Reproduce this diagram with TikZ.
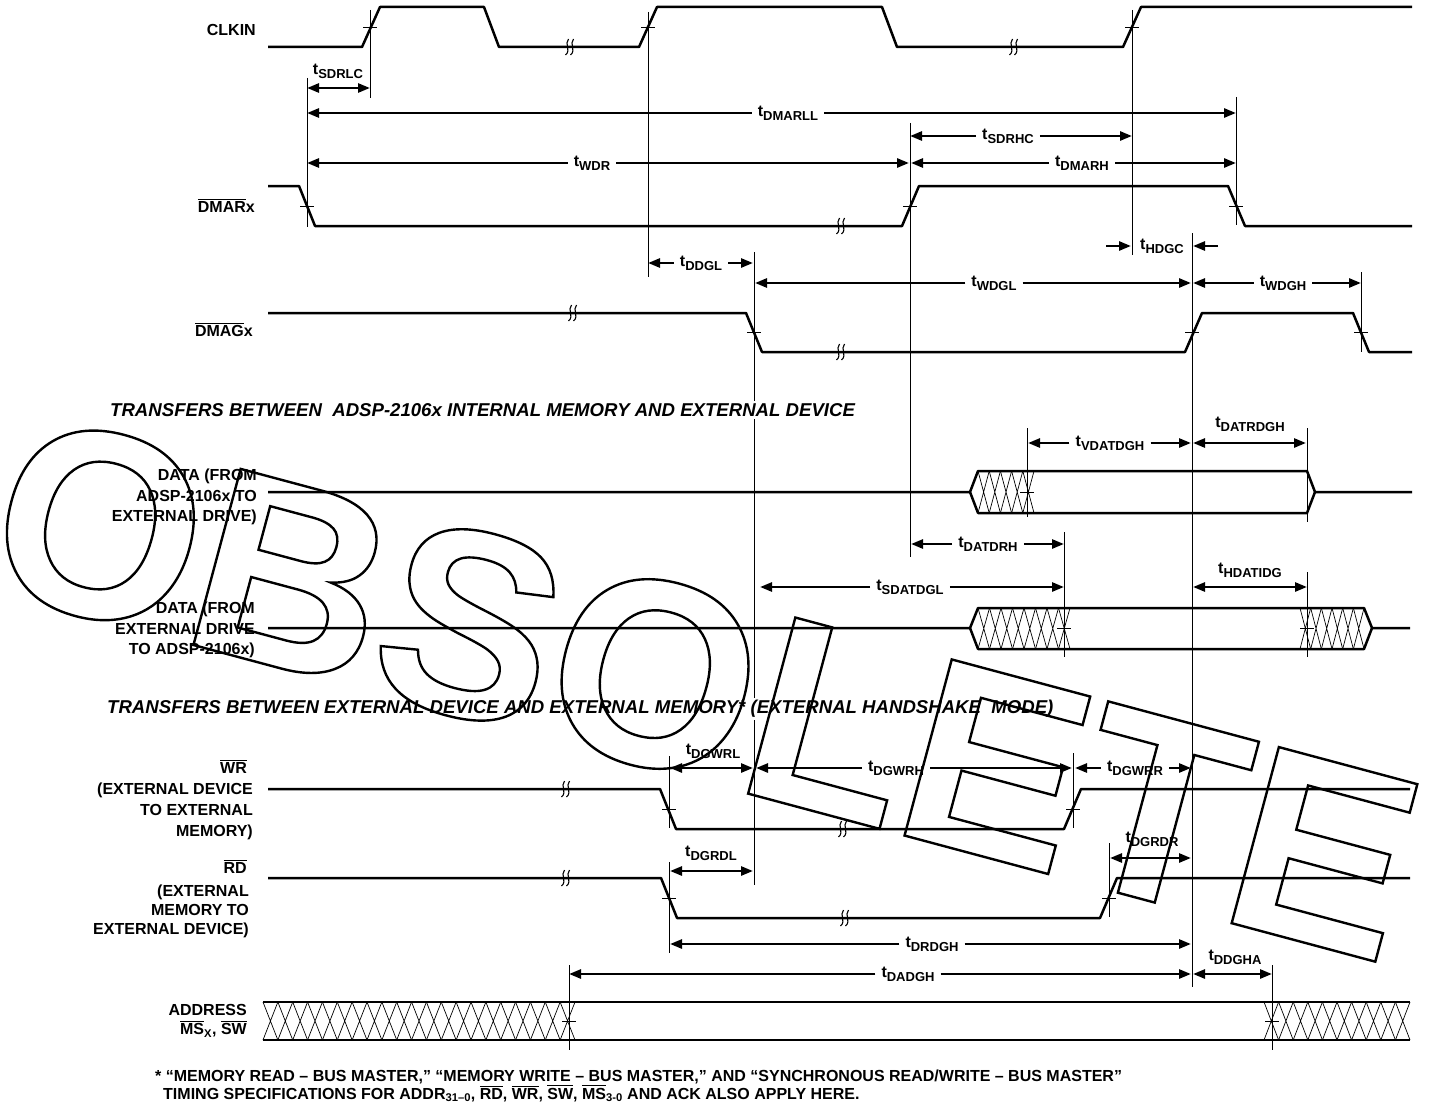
\documentclass[tikz,border=0pt]{standalone}
\usepackage{fontspec}
\setmainfont{Liberation Sans}
\usetikzlibrary{arrows.meta}

% timing parameter: t with a lowered subscript
\newcommand{\tlab}[1]{t\raisebox{-4pt}{\fontsize{13}{13}\selectfont #1}}
% active-low bar over a signal name
\newcommand{\ovl}[1]{\leavevmode\vbox{\hrule height 1.1pt\kern 1.4pt\hbox{#1}}}

\begin{document}
\begin{tikzpicture}[
    x=1pt, y=-1pt,
    sig/.style={line width=2.5pt, line join=round},
    ref/.style={line width=0.9pt},
    hatch/.style={line width=0.7pt},
    dim/.style={line width=2.6pt, >={Triangle[length=12pt,width=9pt]}},
    tl/.style={font=\fontsize{16}{16}\selectfont\bfseries, inner xsep=6pt, inner ysep=0pt},
    lbl/.style={font=\fontsize{16}{20.5}\selectfont\bfseries, align=right, anchor=east, inner sep=0pt},
    head/.style={font=\fontsize{18.6}{20}\selectfont\bfseries\itshape, anchor=west, fill=white, inner sep=2pt},
    brk/.pic={\draw[line width=1.1pt] (1.5,-8) .. controls (-3,-3) and (4.5,3) .. (-1.5,8)
                                      (6.5,-8) .. controls (2,-3) and (9.5,3) .. (3.5,8);},
    tick/.pic={\draw[ref] (-7,0) -- (7,0);},
]
\useasboundingbox (0,0) rectangle (1440,1105);

% Reference lines
\draw[ref] (307,78) -- (307,227);
\draw[ref] (370,10) -- (370,98);
\draw[ref] (648,12) -- (648,277);
\draw[ref] (910,123) -- (910,557);
\draw[ref] (1132,10) -- (1132,255);
\draw[ref] (1236,97) -- (1236,225);
\draw[ref] (754,252) -- (754,885);
\draw[ref] (1192,233) -- (1192,987);
\draw[ref] (1361,272) -- (1361,352);
\draw[ref] (1027,428) -- (1027,517);
\draw[ref] (1307,428) -- (1307,522);
\draw[ref] (1064,532) -- (1064,657);
\draw[ref] (1307,572) -- (1307,657);
\draw[ref] (669,756) -- (669,828);
\draw[ref] (669,862) -- (669,953);
\draw[ref] (1073,753) -- (1073,828);
\draw[ref] (1109,843) -- (1109,917);
\draw[ref] (569,965) -- (569,1050);
\draw[ref] (1272,965) -- (1272,1050);

% Section headings
\node[head] (sec1) at (108,410) {TRANSFERS BETWEEN\ \ ADSP-2106x INTERNAL MEMORY AND EXTERNAL DEVICE};
\node[head] (sec2) at (105,709) {TRANSFERS BETWEEN EXTERNAL DEVICE AND EXTERNAL MEMORY* (EXTERNAL HANDSHAKE\ \ MODE)};

% CLKIN
\node[lbl] (clkin) at (256,30) {CLKIN};
\draw[sig] (268,47) -- (362,47) -- (380,7) -- (484,7) -- (499,47) -- (639,47) -- (657,7)
    -- (882,7) -- (897,47) -- (1123,47) -- (1141,7) -- (1412,7);
\pic at (567,47) {brk};
\pic at (1011,47) {brk};
\pic at (370,27) {tick};
\pic at (648,27) {tick};
\pic at (1132,27) {tick};

% DMARx
\node[lbl] (dmar) at (255,206) {\ovl{DMAR}x};
\draw[sig] (268,186) -- (299,186) -- (315,226) -- (902,226) -- (919,186) -- (1228,186)
    -- (1245,226) -- (1412,226);
\pic at (838,226) {brk};
\pic at (307,206) {tick};
\pic at (910,206) {tick};
\pic at (1236,206) {tick};

% DMAGx
\node[lbl] (dmag) at (253,330) {\ovl{DMAG}x};
\draw[sig] (268,313) -- (746,313) -- (762,352) -- (1185,352) -- (1202,313) -- (1353,313)
    -- (1369,352) -- (1412,352);
\pic at (570,313) {brk};
\pic at (838,352) {brk};
\pic at (754,332) {tick};
\pic at (1192,332) {tick};
\pic at (1361,332) {tick};

% DATA, ADSP-2106x to external drive
\node[lbl] (data1) at (257,497) {DATA (FROM\\ADSP-2106x TO\\EXTERNAL DRIVE)};
\draw[sig] (268,492) -- (970,492) -- (978,471) -- (1307,471) -- (1315,492) -- (1412,492);
\draw[sig] (970,492) -- (978,513) -- (1307,513) -- (1315,492);
\foreach \i in {0,...,4}
    \draw[hatch] ({978+11.2*\i},471) -- ({978+11.2*(\i+1)},513)
                 ({978+11.2*\i},513) -- ({978+11.2*(\i+1)},471);
\pic at (1027,492) {tick};

% DATA, external drive to ADSP-2106x
\node[lbl] (data2) at (255,630) {DATA (FROM\\EXTERNAL DRIVE\\TO ADSP-2106x)};
\draw[sig] (268,628) -- (970,628) -- (978,608) -- (1364,608) -- (1372,628) -- (1410,628);
\draw[sig] (970,628) -- (978,649) -- (1364,649) -- (1372,628);
\foreach \i in {0,...,7}
    \draw[hatch] ({978+11.5*\i},608) -- ({978+11.5*(\i+1)},649)
                 ({978+11.5*\i},649) -- ({978+11.5*(\i+1)},608);
\foreach \i in {0,...,5}
    \draw[hatch] ({1300+10.67*\i},608) -- ({1300+10.67*(\i+1)},649)
                 ({1300+10.67*\i},649) -- ({1300+10.67*(\i+1)},608);
\pic at (1064,628) {tick};
\pic at (1307,628) {tick};

% WR
\node[lbl] (wr) at (247,767) {\ovl{WR}};
\node[lbl, font=\fontsize{16}{21}\selectfont\bfseries] (wrnote) at (253,811) {(EXTERNAL DEVICE\\TO EXTERNAL\\MEMORY)};
\draw[sig] (268,789) -- (660,789) -- (676,829) -- (1064,829) -- (1081,789) -- (1410,789);
\pic at (563,789) {brk};
\pic at (840,829) {brk};
\pic at (669,809) {tick};
\pic at (1073,809) {tick};

% RD
\node[lbl] (rd) at (247,867) {\ovl{RD}};
\node[lbl, font=\fontsize{16}{19}\selectfont\bfseries] (rdnote) at (249,911) {(EXTERNAL\\MEMORY TO\\EXTERNAL DEVICE)};
\draw[sig] (268,878) -- (661,878) -- (677,918) -- (1100,918) -- (1117,878) -- (1410,878);
\pic at (563,878) {brk};
\pic at (842,918) {brk};
\pic at (669,898) {tick};
\pic at (1109,898) {tick};

% ADDRESS
\node[lbl, font=\fontsize{16}{19}\selectfont\bfseries] (addr) at (247,1021) {ADDRESS\\\ovl{MS}\textsubscript{X}, \ovl{SW}};
\draw[sig] (263,1002) -- (1410,1002);
\draw[sig] (263,1040) -- (1410,1040);
\foreach \i in {0,...,20}
    \draw[hatch] ({263+14.857*\i},1002) -- ({263+14.857*(\i+1)},1040)
                 ({263+14.857*\i},1040) -- ({263+14.857*(\i+1)},1002);
\foreach \i in {0,...,9}
    \draw[hatch] ({1264+14.6*\i},1002) -- ({1264+14.6*(\i+1)},1040)
                 ({1264+14.6*\i},1040) -- ({1264+14.6*(\i+1)},1002);
\pic at (569,1021) {tick};
\pic at (1272,1021) {tick};

% Timing parameters
\node[tl] (sdrlc) at (338,71) {\tlab{SDRLC}};
\draw[<->, dim] (307,88) -- (370,88);

\node[tl] (dmarll) at (788,113) {\tlab{DMARLL}};
\draw[->, dim] (dmarll.west) -- (307,113);
\draw[->, dim] (dmarll.east) -- (1236,113);

\node[tl] (sdrhc) at (1008,136) {\tlab{SDRHC}};
\draw[->, dim] (sdrhc.west) -- (910,136);
\draw[->, dim] (sdrhc.east) -- (1132,136);

\node[tl] (wdr) at (592,163) {\tlab{WDR}};
\draw[->, dim] (wdr.west) -- (307,163);
\draw[->, dim] (wdr.east) -- (909,163);

\node[tl] (dmarh) at (1082,163) {\tlab{DMARH}};
\draw[->, dim] (dmarh.west) -- (911,163);
\draw[->, dim] (dmarh.east) -- (1236,163);

\node[tl] (hdgc) at (1162,246) {\tlab{HDGC}};
\draw[->, dim] (1106,246) -- (1131,246);
\draw[->, dim] (1218,246) -- (1193,246);

\node[tl] (ddgl) at (701,263) {\tlab{DDGL}};
\draw[->, dim] (ddgl.west) -- (648,263);
\draw[->, dim] (ddgl.east) -- (753,263);

\node[tl] (wdgl) at (994,283) {\tlab{WDGL}};
\draw[->, dim] (wdgl.west) -- (755,283);
\draw[->, dim] (wdgl.east) -- (1191,283);

\node[tl] (wdgh) at (1283,283) {\tlab{WDGH}};
\draw[->, dim] (wdgh.west) -- (1193,283);
\draw[->, dim] (wdgh.east) -- (1361,283);

\node[tl] (datrdgh) at (1250,424) {\tlab{DATRDGH}};
\draw[<->, dim] (1193,443) -- (1306,443);

\node[tl] (vdatdgh) at (1110,443) {\tlab{VDATDGH}};
\draw[->, dim] (vdatdgh.west) -- (1028,443);
\draw[->, dim] (vdatdgh.east) -- (1191,443);

\node[tl] (datdrh) at (988,544) {\tlab{DATDRH}};
\draw[->, dim] (datdrh.west) -- (911,544);
\draw[->, dim] (datdrh.east) -- (1064,544);

\node[tl] (hdatidg) at (1250,570) {\tlab{HDATIDG}};
\draw[<->, dim] (1193,587) -- (1307,587);

\node[tl] (sdatdgl) at (910,587) {\tlab{SDATDGL}};
\draw[->, dim] (sdatdgl.west) -- (760,587);
\draw[->, dim] (sdatdgl.east) -- (1064,587);

\node[tl] (dgwrl) at (713,751) {\tlab{DGWRL}};
\draw[<->, dim] (670,768) -- (753,768);

\node[tl] (dgwrh) at (896,768) {\tlab{DGWRH}};
\draw[->, dim] (dgwrh.west) -- (756,768);
\draw[->, dim] (dgwrh.east) -- (1072,768);

\node[tl] (dgwrr) at (1135,768) {\tlab{DGWRR}};
\draw[->, dim] (dgwrr.west) -- (1075,768);
\draw[->, dim] (dgwrr.east) -- (1191,768);

\node[tl] (dgrdr) at (1152,839) {\tlab{DGRDR}};
\draw[<->, dim] (1110,858) -- (1191,858);

\node[tl] (dgrdl) at (711,853) {\tlab{DGRDL}};
\draw[<->, dim] (670,871) -- (753,871);

\node[tl] (drdgh) at (932,944) {\tlab{DRDGH}};
\draw[->, dim] (drdgh.west) -- (670,944);
\draw[->, dim] (drdgh.east) -- (1191,944);

\node[tl] (ddgha) at (1235,957) {\tlab{DDGHA}};
\draw[<->, dim] (1193,974) -- (1272,974);

\node[tl] (dadgh) at (908,974) {\tlab{DADGH}};
\draw[->, dim] (dadgh.west) -- (569,974);
\draw[->, dim] (dadgh.east) -- (1191,974);

% Footnote
\node[anchor=base west, inner sep=0pt, font=\fontsize{16}{16}\selectfont\bfseries] (fn1) at (155,1081)
    {* “MEMORY READ – BUS MASTER,” “MEMORY WRITE – BUS MASTER,” AND “SYNCHRONOUS READ/WRITE – BUS MASTER”};
\node[anchor=base west, inner sep=0pt, font=\fontsize{16}{16}\selectfont\bfseries] (fn2) at (163,1099)
    {TIMING SPECIFICATIONS FOR ADDR\textsubscript{31–0}, \ovl{RD}, \ovl{WR}, \ovl{SW}, \ovl{MS}\textsubscript{3-0} AND ACK ALSO APPLY HERE.};

% Watermark, outlined letters
\node[anchor=base west, inner sep=0pt, rotate=-15, font=\fontsize{265}{265}\selectfont\bfseries] (wm) at (-23,587)
    {\special{pdf:literal direct 1 Tr 2.4 w}OBSOLETE\special{pdf:literal direct 0 Tr}};

\end{tikzpicture}
\end{document}
